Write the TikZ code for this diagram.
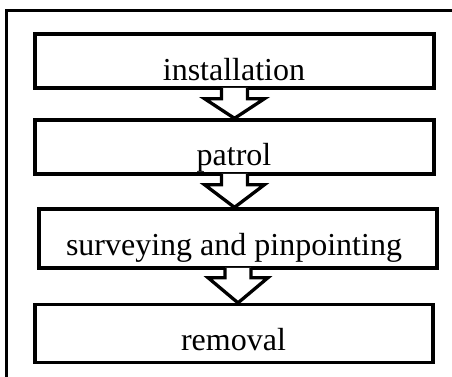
\documentclass[tikz,border=0pt]{standalone}
\usepackage{fontspec}
\setmainfont{Liberation Serif}
\newcommand\blkarrow[3]{%
  \fill[white] ([xshift=-13pt,yshift=1.8pt]#1.south) -- ([xshift=-13pt,yshift=-#3pt]#1.south)
    -- ([xshift=-30pt,yshift=-#3pt]#1.south) -- (#1.south |- #2.north)
    -- ([xshift=30pt,yshift=-#3pt]#1.south) -- ([xshift=13pt,yshift=-#3pt]#1.south)
    -- ([xshift=13pt,yshift=1.8pt]#1.south) -- cycle;
  \draw[arrline] ([xshift=-13pt,yshift=1.65pt]#1.south) -- ([xshift=-13pt,yshift=-#3pt]#1.south)
    -- ([xshift=-30pt,yshift=-#3pt]#1.south) -- (#1.south |- #2.north)
    -- ([xshift=30pt,yshift=-#3pt]#1.south) -- ([xshift=13pt,yshift=-#3pt]#1.south)
    -- ([xshift=13pt,yshift=1.65pt]#1.south);}
\begin{document}
\begin{tikzpicture}[x=1pt,y=-1pt,
  stepbox/.style={draw, line width=3.3pt, inner sep=0pt, rectangle},
  arrline/.style={line width=3.3pt, line join=miter},
  lbl/.style={anchor=base, inner sep=0pt, font=\fontsize{32}{36}\selectfont}]
\useasboundingbox (0,0) rectangle (452,376);
\clip (0,0) rectangle (452,376);
\draw[line width=3.3pt] (6.5,10.5) rectangle (480,400);
\node[stepbox, minimum width=399pt, minimum height=54pt] (b1) at (234.5,61) {};
\node[stepbox, minimum width=399pt, minimum height=54pt] (b2) at (234.5,147) {};
\node[stepbox, minimum width=398pt, minimum height=59pt] (b3) at (238,238.5) {};
\node[stepbox, minimum width=398pt, minimum height=58pt] (b4) at (234,333.5) {};
\node[lbl] (t1) at (234,80) {installation};
\node[lbl] (t2) at (234,165) {patrol};
\node[lbl] (t3) at (234,255) {surveying and pinpointing};
\node[lbl] (t4) at (233.5,350) {removal};
\blkarrow{b1}{b2}{9}
\blkarrow{b2}{b3}{9}
\blkarrow{b3}{b4}{8}
\end{tikzpicture}
\end{document}
